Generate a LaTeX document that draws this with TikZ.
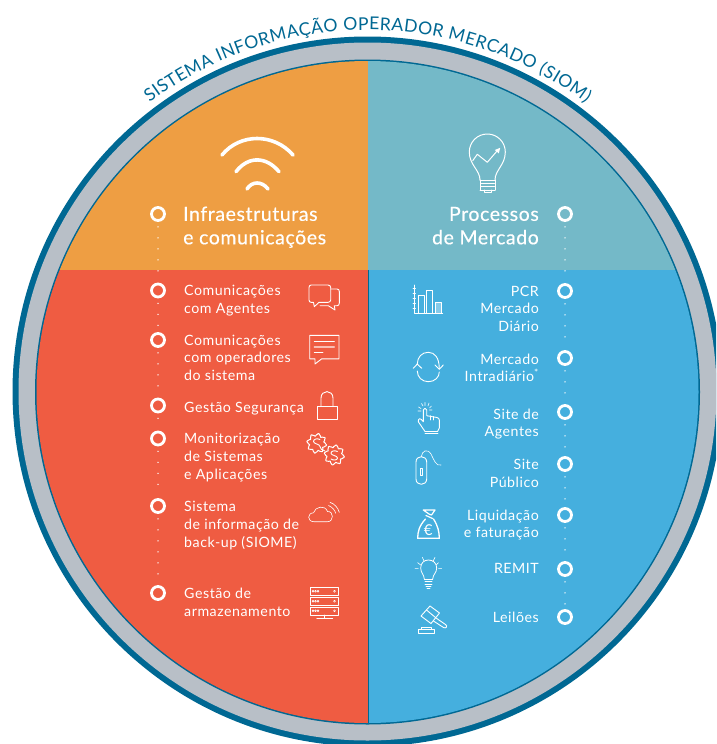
\documentclass[tikz,border=0pt]{standalone}
\usepackage{fontspec}
\setmainfont{Lato}[LetterSpace=3.8]
\newfontfamily\titlefont{Lato}[FakeBold=0.4,LetterSpace=3]
\newfontfamily\ringfont{Lato}
\usetikzlibrary{decorations.text,shapes.geometric}
\definecolor{orangeq}{HTML}{EE9E43}
\definecolor{tealq}{HTML}{74B9C8}
\definecolor{redq}{HTML}{EF5C42}
\definecolor{blueq}{HTML}{45AFDE}
\definecolor{greyr}{HTML}{B8BFC7}
\definecolor{darkr}{HTML}{006893}
\tikzset{
 x=1pt,y=-1pt,
 wp/.style={circle,draw=white,line width=2.8pt,minimum size=13pt,inner sep=0pt},
 dots/.style={white,line width=1.5pt,line cap=round,dash pattern=on 0pt off 11pt,shorten >=3pt,shorten <=5pt},
 lbl/.style={white,anchor=base west,align=left,inner sep=0pt,font=\fontsize{14.2}{17.7}\selectfont},
 lbr/.style={white,anchor=base east,align=right,inner sep=0pt,font=\fontsize{14.2}{17.7}\selectfont},
 ttl/.style={white,anchor=base west,align=left,inner sep=0pt,font=\titlefont\fontsize{19.5}{23.5}\selectfont},
 ttr/.style={ttl,anchor=base east,align=right},
 ic/.style={white,line width=0.9pt,line join=round,line cap=round},
 ict/.style={white,line width=0.6pt,line join=round,line cap=round},
}
\newcommand{\gear}[3]{%
 \draw[ic,line width=1pt] plot[domain=0:360,samples=97,smooth] ({#1+(#3+1.4*sin(8*\x)*sin(8*\x)*sign(sin(8*\x)))*cos(\x)},{#2+(#3+1.4*sin(8*\x)*sin(8*\x)*sign(sin(8*\x)))*sin(\x)}) -- cycle;}
\begin{document}
\begin{tikzpicture}
\useasboundingbox (0,0) rectangle (716,744);
\clip (0,0) rectangle (716,744);
\fill[white] (0,0) rectangle (716,744);
% rings
\fill[darkr] (367.5,391.5) circle[radius=355pt];
\fill[greyr] (367.5,391.5) circle[radius=349pt];
\fill[darkr] (367.5,392) circle[radius=332.5pt];
\begin{scope}
\clip (367.5,392) circle[radius=331pt];
\fill[orangeq] (0,0) rectangle (367.5,270);
\fill[tealq] (367.5,0) rectangle (716,270);
\fill[redq] (0,270) rectangle (367.5,744);
\fill[blueq] (367.5,270) rectangle (716,744);
\draw[darkr,line width=0.7pt] (368,270) -- (368,744);
\end{scope}
% ring title
\path[decorate,decoration={text along path,text align={fit to path},
 text={|\ringfont\color{darkr}\fontsize{17.6}{18}\selectfont|SISTEMA INFORMAÇÃO OPERADOR MERCADO (SIOM)}}]
 (149.6,102.9) .. controls (278.6,5.7) and (456.4,5.7) .. (585.4,102.9);
% waypoints
\node[wp] (l1) at (158,214) {};
\node[wp] (l2) at (158,290.5) {};
\node[wp] (l3) at (158,340) {};
\node[wp] (l4) at (158,405.5) {};
\node[wp] (l5) at (158,438.5) {};
\node[wp] (l6) at (158,506) {};
\node[wp] (l7) at (158,593) {};
\node[wp] (r1) at (565,214) {};
\node[wp] (r2) at (565,291) {};
\node[wp] (r3) at (565,358) {};
\node[wp] (r4) at (565,412) {};
\node[wp] (r5) at (565,464) {};
\node[wp] (r6) at (565,515) {};
\node[wp] (r7) at (565,569) {};
\node[wp] (r8) at (565,617) {};
\foreach \a/\b in {l1/l2,l2/l3,l3/l4,l4/l5,l5/l6,l6/l7,r1/r2,r2/r3,r3/r4,r4/r5,r5/r6,r6/r7,r7/r8}
 \draw[dots] (\a) -- (\b);
% labels (y = last baseline)
\node[ttl] (t1) at (183,244.3) {Infraestruturas\\e comunicações};
\node[ttr] (t2) at (539,244.3) {Processos\\de Mercado};
\node[lbl] (a1) at (184,313.4) {Comunicações\\com Agentes};
\node[lbl] (a2) at (184,380.4) {Comunicações\\com operadores\\do sistema};
\node[lbl] (a3) at (184,412) {Gestão Segurança};
\node[lbl] (a4) at (184,479) {Monitorização\\de Sistemas\\e Aplicações};
\node[lbl] (a5) at (184,547) {Sistema\\de informação de\\back-up (SIOME)};
\node[lbl] (a6) at (184,616) {Gestão de\\armazenamento};
\node[lbr] (b1) at (539,331.4) {PCR\\Mercado\\Diário};
\node[lbr] (b2) at (539,381.7) {Mercado\\Intradiário\textsuperscript{*}};
\node[lbr] (b3) at (539,436.7) {Site de\\Agentes};
\node[lbr] (b4) at (539,487.2) {Site\\Público};
\node[lbr] (b5) at (539,537.7) {Liquidação\\e faturação};
\node[lbr] (b6) at (539,573.5) {REMIT};
\node[lbr] (b7) at (539,622.5) {Leilões};
% wifi
\draw[white,line width=3.6pt,line cap=round] (222,155) .. controls (240,133) and (274,133) .. (293,155);
\draw[white,line width=3.6pt,line cap=round] (236,171.7) .. controls (248,156) and (266,156) .. (279,171.7);
\draw[white,line width=3.6pt,line cap=round] (247,189) .. controls (252,181) and (262,181) .. (268,189);
% big bulb
\draw[ic,line width=1pt] (480,180) .. controls (480,170) and (469.3,165) .. (469.3,152) .. controls (469.3,142) and (477.3,134) .. (487.3,134) .. controls (497.3,134) and (505.3,142) .. (505.3,152) .. controls (505.3,165) and (495,170) .. (495,180);
\draw[ic,line width=1pt] (480,180) -- (495,180) (480.5,183.4) -- (494.5,183.4) (480.5,186.8) -- (494.5,186.8) (480,190) -- (495,190) (480,180) -- (480,190) (495,180) -- (495,190);
\draw[ic,line width=1pt] (484,190) -- (484,192.8) -- (491,192.8) -- (491,190);
\draw[ic,line width=1pt] (472.7,160.7) -- (477.3,154.3) -- (487.3,162.3) -- (497.3,150.7);
\fill[white] (500.2,147.8) -- (494.8,150) -- (498.8,153.3) -- cycle;
% chat
\draw[ic] (311,285) -- (328,285) .. controls (329.5,285) and (330.7,286) .. (330.7,287.5) -- (330.7,300) .. controls (330.7,301.5) and (329.5,302.3) .. (328,302.3) -- (319,302.3) -- (314.3,306.7) -- (313.5,302.3) -- (311,302.3) .. controls (310,302.3) and (309,301.5) .. (309,300) -- (309,287.5) .. controls (309,286) and (310,285) .. (311,285);
\draw[ic] (330.7,289) -- (337,289) .. controls (338.5,289) and (339.3,290) .. (339.3,291.5) -- (339.3,303) .. controls (339.3,305) and (338.5,305.7) .. (337,305.7) -- (334.3,305.7) -- (335,310) -- (328.3,305.7) -- (320,305.7);
% comment
\draw[ic] (309.7,335.3) -- (339,335.3) -- (339,358.8) -- (321.7,358.8) -- (315,364) -- (315,358.8) -- (309.7,358.8) -- cycle;
\draw[ic] (314.3,341.7) -- (334.3,341.7) (323,352.3) -- (314.3,352.3);
\draw[ic,line width=1.4pt,white!60!redq] (314.3,346.8) -- (334.3,346.8);
% lock
\draw[ic] (317,406.7) rectangle (337,419.8);
\draw[ic] (321,406.7) -- (321,398) .. controls (321,389.5) and (333,389.5) .. (333,398) -- (333,406.7);
% gears
\gear{316.7}{443.3}{8.6}
\gear{334.3}{455}{8.8}
\draw[ic] (320,439.5) .. controls (317,438) and (313.5,439) .. (313.5,441.5) .. controls (313.5,444) and (320,444) .. (320,446.5) .. controls (320,449) and (322,450) .. (325,451);
\draw[ic] (337.5,451.5) .. controls (334.5,450) and (331,451) .. (331,453.3) .. controls (331,455.5) and (337.5,455.5) .. (337.5,458) .. controls (337.5,460.5) and (333,460.5) .. (331,459);
% cloud
\draw[ict] (314,521.7) .. controls (307,521.7) and (307,513) .. (313.5,512.8) .. controls (315,506.5) and (325,504.5) .. (327.5,511.5) .. controls (334,511) and (334,521.7) .. (327.5,521.7) -- cycle;
\draw[ict] (330,502.3) .. controls (335,504) and (338,508) .. (339.3,512.3);
\draw[ict] (328.5,505.5) .. controls (332,507) and (335,510) .. (335.7,513.3);
% servers
\foreach \yy in {587.3,597.2,606.8}{
 \draw[ict] (310,\yy) rectangle (338.7,\yy+8.2);
 \foreach \xx in {313,315.5,318} \draw[ict] (\xx,\yy+4) circle[radius=0.9pt];
 \draw[ict] (334.5,\yy+4) circle[radius=1pt];
}
\draw[ict] (324.3,615) -- (324.3,618.5) (316.7,618.6) -- (332.7,618.6);
% bars
\draw[ic] (414,285) -- (414,313.3) -- (442.7,313.3);
\foreach \yy in {288,293,298,303,308} \draw[ict] (413,\yy) -- (415.5,\yy);
\draw[ic] (418.3,313.3) -- (418.3,295) -- (424.3,295) -- (424.3,313.3);
\draw[ic] (426.7,313.3) -- (426.7,290.7) -- (432.7,290.7) -- (432.7,313.3);
\fill[white!35!blueq] (435,302.3) rectangle (441,313.3);
\draw[ic] (435,313.3) -- (435,302.3) -- (441,302.3) -- (441,313.3);
% cycle
\draw[ic] (417.3,364) .. controls (417.3,357) and (422,352.3) .. (428.3,352.3) .. controls (435,352.3) and (439.3,358) .. (439.3,369);
\draw[ic] (417.3,371) .. controls (417.3,377) and (422,381.7) .. (428.3,381.7) .. controls (435,381.7) and (439.3,377) .. (439.3,372);
\draw[ic] (413.3,368.3) -- (417.3,364) -- (421.7,368.3);
\draw[ic] (435,365) -- (439.3,369.3) -- (443.3,365);
% hand
\draw[ic] (425,431.5) -- (418.3,421.7) .. controls (418,418) and (420.5,417.5) .. (423.3,421.7) -- (423.3,410) .. controls (423.3,407.8) and (426.7,407.8) .. (426.7,410) -- (426.7,415.7) -- (437,417.5) .. controls (438.5,417.8) and (439.3,419) .. (439.3,420) -- (439.3,428) -- (437.5,431.5) -- cycle;
\draw[ict] (430,415.7) -- (430,420) (433.5,416.5) -- (433.5,420) (425,433.5) -- (438,433.5);
\draw[ict] (418.5,407) -- (421,408.5) (418,411) -- (421,411) (421.5,403.5) -- (423,406) (425,402.5) -- (425,405.5) (429,403) -- (428,406) (431.5,406) -- (429.5,408) (432,410) -- (429.5,410);
% mouse
\draw[ic] (416,462) .. controls (416,458.5) and (418.5,456.7) .. (421.3,456.7) .. controls (424,456.7) and (426.7,458.5) .. (426.7,462) -- (426.7,479) .. controls (426.7,482.5) and (424,484.3) .. (421.3,484.3) .. controls (418.5,484.3) and (416,482.5) .. (416,479) -- cycle;
\draw[ict] (420,468) rectangle (422.7,475);
\draw[ict] (421.3,456.7) .. controls (422,451) and (427,448) .. (431,454) .. controls (434,460) and (436,466.5) .. (441,465);
% money bag
\draw[ic,line width=1.2pt] (423.3,510) -- (435,510) -- (431.5,515) -- (429,514) -- (423.3,510) (426,515.5) -- (432.5,518.5);
\draw[ic,line width=1.3pt] (425.5,519) .. controls (419,526) and (417.7,532) .. (417.7,538.3) -- (439.3,538.3) .. controls (439.3,532) and (438,526) .. (433.5,519);
\node[white,inner sep=0pt,font=\fontsize{15}{15}\selectfont] (eur) at (428.3,530) {€};
% small bulb
\draw[ict,line width=0.8pt] (424.3,579) .. controls (424,574) and (420.7,573) .. (420.7,568) .. controls (420.7,563) and (424,560) .. (428.5,560) .. controls (433,560) and (436.7,563) .. (436.7,568) .. controls (436.7,573) and (433,574) .. (432.7,579);
\draw[ict] (424.3,579.3) -- (432.7,579.3) (425,581.5) -- (432,581.5) (425,584) -- (432,584);
\draw[ict] (426,586.5) -- (431,586.5) (427,588) -- (430,588);
\draw[ict] (415,568.3) -- (418.3,568.3) (417.7,562.7) -- (420.7,565) (422.3,557.3) -- (424,561) (435,557.3) -- (433.2,561) (438.5,562.7) -- (436,565) (441.7,568.3) -- (438.5,568.3);
% gavel
\draw[ic] (430,606) -- (421,616) -- (431,623.5) -- (439.5,613) -- cycle;
\draw[ic] (426.5,610) -- (435.5,617.5);
\draw[ic] (436,618) -- (445.5,624.5) .. controls (448,626) and (446,629) .. (443.5,627.5) -- (433.5,621);
\draw[ic,line width=0.8pt] (418.3,633.3) rectangle (434.3,629);
\draw[ic,line width=0.8pt] (421.7,629) -- (421.7,627.3) -- (431.7,627.3) -- (431.7,629);
\end{tikzpicture}
\end{document}
